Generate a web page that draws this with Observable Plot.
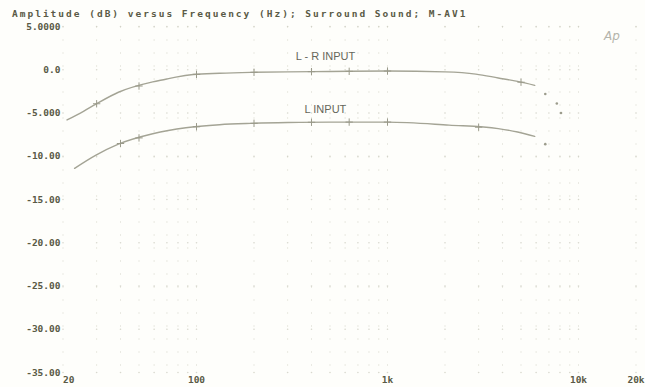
<!DOCTYPE html>
<html>
<head>
<meta charset="utf-8">
<script src="https://cdn.jsdelivr.net/npm/d3@7"></script>
<script src="https://cdn.jsdelivr.net/npm/@observablehq/plot@0.6"></script>
<style>
  html, body { margin: 0; padding: 0; background: #fefefb; }
  #wrap { position: relative; width: 645px; height: 387px; overflow: hidden; }
  #title { position: absolute; left: 12px; top: 8px; font-family: "DejaVu Sans Mono", monospace; font-weight: bold; font-size: 9.5px; letter-spacing: 2px; color: #5a5a46; white-space: nowrap; }
  #logo { position: absolute; left: 604px; top: 29px; font-family: "DejaVu Sans", sans-serif; font-style: italic; font-size: 12px; color: #b4b4aa; }
</style>
</head>
<body>
<div id="wrap">
  <div id="title">Amplitude (dB) versus Frequency (Hz); Surround Sound; M-AV1</div>
  <div id="logo">Ap</div>
</div>
<script>
// L - R INPUT curve
const lrFreq = [21, 25.6, 29.6, 39, 59, 69, 78, 96, 132, 192, 300, 500, 1000, 2000, 2900, 3800, 4800, 5900];
const lrDb   = [-5.8, -4.8, -4.0, -2.6, -1.4, -1.1, -0.85, -0.55, -0.4, -0.3, -0.25, -0.2, -0.15, -0.25, -0.5, -0.95, -1.35, -1.8];
const lrTailFreq = [6700, 7700, 8100];
const lrTailDb   = [-2.8, -3.9, -5.0];

// L INPUT curve
const lFreq = [23, 29.6, 39, 59, 88, 132, 192, 300, 500, 1000, 2100, 3800, 4800, 5900];
const lDb   = [-11.4, -9.9, -8.6, -7.4, -6.7, -6.35, -6.2, -6.1, -6.05, -6.05, -6.4, -6.8, -7.2, -7.7];
const lTailFreq = [6700];
const lTailDb   = [-8.6];

// markers seen on the traces
const lrMarkFreq = [30, 50, 100, 200, 400, 630, 1000, 5000];
const lMarkFreq  = [40, 50, 100, 200, 400, 630, 1000, 3000];

// annotations
const annText = ["L - R INPUT", "L INPUT"];
const annFreq = [473, 473];
const annDb   = [1.5, -4.6];

// axes
const yTicks  = [5, 0, -5, -10, -15, -20, -25, -30, -35];
const yLabels = ["5.0000", "0.0", "-5.000", "-10.00", "-15.00", "-20.00", "-25.00", "-30.00", "-35.00"];
const xTicks  = [100, 1000, 10000, 20000];
const xLabels = ["100", "1k", "10k", "20k"];
const xFirstTick = [20];
const xFirstLabel = ["20"];
const gridFreq = [20,30,40,50,60,70,80,90,100,200,300,400,500,600,700,800,900,1000,2000,3000,4000,5000,6000,7000,8000,9000,10000,20000];

const interp = (fs, ds) => f => {
  const lf = Math.log10(f);
  for (let i = 0; i < fs.length - 1; i++) {
    const a = Math.log10(fs[i]), b = Math.log10(fs[i + 1]);
    if (lf >= a && lf <= b) return ds[i] + (ds[i + 1] - ds[i]) * (lf - a) / (b - a);
  }
  return null;
};
const lrAt = interp(lrFreq, lrDb), lAt = interp(lFreq, lDb);

const lr = lrFreq.map((f, i) => ({f, db: lrDb[i]}));
const l  = lFreq.map((f, i) => ({f, db: lDb[i]}));
const tails = [
  ...lrTailFreq.map((f, i) => ({f, db: lrTailDb[i]})),
  ...lTailFreq.map((f, i) => ({f, db: lTailDb[i]}))
];
const marks = [
  ...lrMarkFreq.map(f => ({f, db: lrAt(f)})),
  ...lMarkFreq.map(f => ({f, db: lAt(f)}))
].filter(d => d.db != null);
const ann = annText.map((t, i) => ({t, f: annFreq[i], db: annDb[i]}));
const hGrid = [];
for (const y of yTicks) for (const g of gridFreq) hGrid.push({f: g, db: y});

const fontMono = "DejaVu Sans Mono, monospace";
const ink = "#5a5a46";
const curve = "#a4a495";

const chart = Plot.plot({
  width: 645,
  height: 387,
  marginLeft: 62.5,
  marginRight: 9.5,
  marginTop: 26,
  marginBottom: 15,
  style: {background: "transparent", overflow: "visible"},
  x: {type: "log", domain: [20, 20000]},
  y: {domain: [-35, 5]},
  marks: [
    Plot.ruleX(gridFreq, {stroke: "#d2d2c6", strokeWidth: 1, strokeDasharray: "2,11", strokeOpacity: 0.45}),
    Plot.dot(hGrid, {x: "f", y: "db", r: 0.8, fill: "#c8c8bb", fillOpacity: 0.7, stroke: "none"}),
    Plot.line(lr, {x: "f", y: "db", stroke: curve, strokeWidth: 1.4, curve: "monotone-x"}),
    Plot.line(l, {x: "f", y: "db", stroke: curve, strokeWidth: 1.4, curve: "monotone-x"}),
    Plot.dot(tails, {x: "f", y: "db", r: 1.3, fill: "#9c9c8c", stroke: "none"}),
    Plot.dot(marks, {x: "f", y: "db", symbol: "plus", r: 2.5, stroke: "#9a9a8a", strokeWidth: 1}),
    Plot.text(ann, {x: "f", y: "db", text: "t", fontFamily: "Liberation Sans, Arial, sans-serif", fontSize: 11, fill: "#66665a", letterSpacing: "1px"}),
    Plot.axisY({ticks: yTicks, tickFormat: (d) => yLabels[yTicks.indexOf(d)], tickSize: 0, tickPadding: 2.5, fontFamily: fontMono, fontWeight: "bold", fontSize: 9.5, letterSpacing: "1.8px", fill: ink, label: null}),
    Plot.axisX({ticks: xTicks, tickFormat: (d) => xLabels[xTicks.indexOf(d)], tickSize: 0, tickPadding: 4, fontFamily: fontMono, fontWeight: "bold", fontSize: 9.5, letterSpacing: "1.6px", fill: ink, label: null}),
    Plot.axisX({ticks: xFirstTick, tickFormat: () => xFirstLabel[0], tickSize: 0, tickPadding: 4, textAnchor: "start", fontFamily: fontMono, fontWeight: "bold", fontSize: 9.5, letterSpacing: "1.6px", fill: ink, label: null})
  ]
});
chart.style.position = "absolute";
chart.style.left = "0";
chart.style.top = "0";
document.getElementById("wrap").prepend(chart);
</script>
</body>
</html>
